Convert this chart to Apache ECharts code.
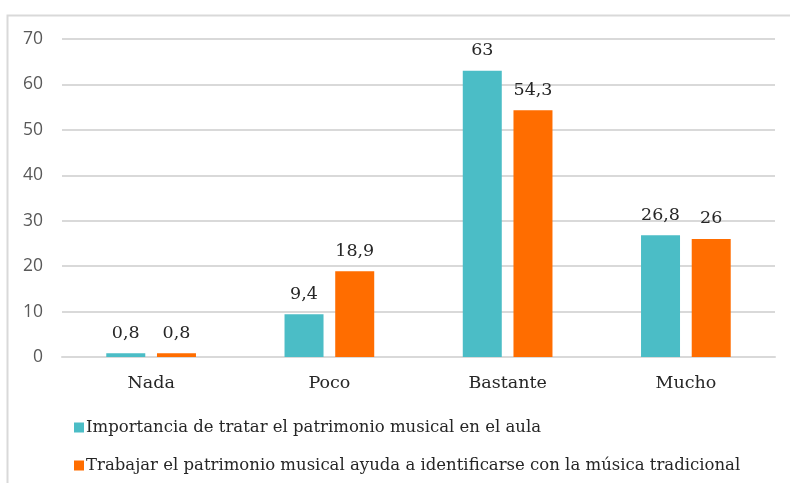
<!DOCTYPE html>
<html>
<head>
<meta charset="utf-8">
<script src="https://cdn.jsdelivr.net/npm/echarts@6/dist/echarts.min.js"></script>
<style>
  html, body { margin: 0; padding: 0; background: #fff; }
  #main { width: 790px; height: 483px; }
</style>
</head>
<body>
<div id="main"></div>
<script>
var categories = ['Nada', 'Poco', 'Bastante', 'Mucho'];
var importancia = [0.8, 9.4, 63, 26.8];
var trabajar = [0.8, 18.9, 54.3, 26];
var seriesNames = [
  'Importancia de tratar el patrimonio musical en el aula',
  'Trabajar el patrimonio musical ayuda a identificarse con la música tradicional'
];

var serifFont = '"DejaVu Serif", serif';

var myChart = echarts.init(document.getElementById('main'));

function labelFmt(p) {
  return String(p.value).replace('.', ',');
}

option = {
  animation: false,
  color: ['#4BBDC6', '#FF6D00'],
  graphic: [{
    type: 'rect',
    shape: { x: 7.5, y: 15.5, width: 800, height: 500 },
    style: { fill: 'none', stroke: '#d9d9d9', lineWidth: 2 },
    silent: true
  }],
  grid: { left: 62, right: 15, top: 39, bottom: 126 },
  xAxis: {
    type: 'category',
    data: categories,
    axisTick: { show: false },
    axisLine: { lineStyle: { color: '#d9d9d9', width: 2 } },
    axisLabel: { color: '#262626', fontSize: 17.5, fontFamily: serifFont, margin: 17 }
  },
  yAxis: {
    type: 'value',
    min: 0,
    max: 70,
    interval: 10,
    axisLine: { show: false },
    axisTick: { show: false },
    splitLine: { lineStyle: { color: '#d9d9d9', width: 2 } },
    axisLabel: { color: '#595959', fontSize: 17.5, fontFamily: 'Open Sans', margin: 19 }
  },
  legend: {
    orient: 'vertical',
    left: 69,
    top: 414,
    itemWidth: 10,
    itemHeight: 10,
    itemGap: 21,
    icon: 'rect',
    textStyle: { color: '#262626', fontSize: 16.5, fontFamily: serifFont, padding: [0, 0, 0, -3] },
    data: seriesNames
  },
  series: [
    {
      name: seriesNames[0],
      type: 'bar',
      data: importancia,
      barWidth: 39,
      barGap: '30%',
      label: { show: true, position: 'top', distance: 11, color: '#262626', fontSize: 17.5, fontFamily: serifFont, formatter: labelFmt }
    },
    {
      name: seriesNames[1],
      type: 'bar',
      data: trabajar,
      barWidth: 39,
      barGap: '30%',
      label: { show: true, position: 'top', distance: 11, color: '#262626', fontSize: 17.5, fontFamily: serifFont, formatter: labelFmt }
    }
  ]
};

myChart.setOption(option);
</script>
</body>
</html>
